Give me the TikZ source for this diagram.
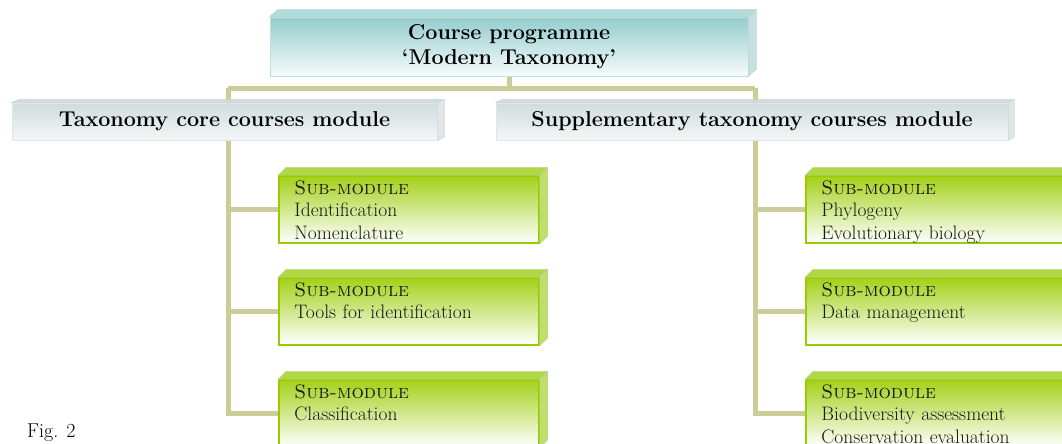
\documentclass[tikz,border=0pt]{standalone}
\usepackage{tikz}
\usetikzlibrary{calc}
\usetikzlibrary{backgrounds}

\definecolor{linkcol}{RGB}{204,204,153}
\definecolor{subgreen}{RGB}{153,204,0}
\definecolor{subtop}{RGB}{176,216,70}
\definecolor{subside}{RGB}{190,222,110}
\definecolor{titleteal}{RGB}{148,204,204}
\definecolor{titletop}{RGB}{178,220,220}
\definecolor{titleside}{RGB}{196,224,224}
\definecolor{modgrey}{RGB}{208,220,222}
\definecolor{modside}{RGB}{222,230,231}

% top face and side face of a boxed node
\newcommand{\solidside}[5]{%
  \fill[#4, draw=#4!80!black!60] (#1.north west) -- ++(#2,-#3)
    -- ([shift={(#2,-#3)}]#1.north east) -- (#1.north east) -- cycle;
  \fill[#5, draw=#5!80!black!60] (#1.north east) -- ++(#2,-#3)
    -- ([shift={(#2,-#3)}]#1.south east) -- (#1.south east) -- cycle;}

\tikzset{
  link/.style={draw=linkcol, line width=5pt, line join=miter},
  titlebox/.style={rectangle, minimum width=478pt, minimum height=59pt,
    top color=titleteal, bottom color=titleteal!8!white, draw=titleteal!60!white,
    line width=0.8pt, align=center, font=\bfseries\fontsize{21.5}{25}\selectfont},
  modbox/.style={rectangle, minimum height=37pt,
    top color=modgrey, bottom color=modgrey!25!white, draw=modgrey!70!white,
    line width=0.8pt, font=\bfseries\fontsize{21.5}{25}\selectfont},
  subbox/.style={rectangle, minimum width=260pt, minimum height=67pt,
    top color=subgreen!90!white, middle color=subgreen!35!white, bottom color=white,
    draw=subgreen, line width=1.5pt},
  subtext/.style={anchor=north west, inner sep=0pt, align=left,
    text width=240pt, text=black!90, font=\fontsize{19.5}{22.5}\selectfont},
}

\begin{document}
\begin{tikzpicture}[x=1pt,y=-1pt]
      \useasboundingbox (0,0) rectangle (1062,444);
      \clip (0,0) rectangle (1062,444);
      % programme and modules
      \node[titlebox] (prog) at (509,46.5) {Course programme\\`Modern Taxonomy'};
      \node[modbox, minimum width=425pt] (core) at (224.5,121.5) {Taxonomy core courses module};
      \node[modbox, minimum width=512pt] (supp) at (752,121.5) {Supplementary taxonomy courses module};
      \solidside{prog}{8}{7}{titletop}{titleside}
      \solidside{core}{7}{3}{modgrey}{modside}
      \solidside{supp}{6}{3}{modgrey}{modside}
      % sub-modules, core
      \node[subbox] (c1) at (409,209.5) {};
      \node[subbox] (c2) at (409,311.5) {};
      \node[subbox] (c3) at (409,413.5) {};
      % sub-modules, supplementary
      \node[subbox] (s1) at (936,209.5) {};
      \node[subbox] (s2) at (936,311.5) {};
      \node[subbox] (s3) at (936,413.5) {};
      \foreach \b in {c1,c2,c3,s1,s2,s3}
        \solidside{\b}{8}{8}{subtop}{subside};
      \node[subtext] (c1t) at ($(c1.north west)+(16,5)$) {\textsc{Sub-module}\\Identification\\Nomenclature};
      \node[subtext] (c2t) at ($(c2.north west)+(16,5)$) {\textsc{Sub-module}\\Tools for identification};
      \node[subtext] (c3t) at ($(c3.north west)+(16,5)$) {\textsc{Sub-module}\\Classification};
      \node[subtext] (s1t) at ($(s1.north west)+(16,5)$) {\textsc{Sub-module}\\Phylogeny\\Evolutionary biology};
      \node[subtext] (s2t) at ($(s2.north west)+(16,5)$) {\textsc{Sub-module}\\Data management};
      \node[subtext] (s3t) at ($(s3.north west)+(16,5)$) {\textsc{Sub-module}\\Biodiversity assessment\\Conservation evaluation};
      \node[anchor=base west, inner sep=0pt, font=\fontsize{20}{24}\selectfont] (fig) at (27,437) {Fig. 2};
      % connectors
      \coordinate (jl) at (228,88);
      \coordinate (jr) at (755,88);
      \begin{scope}[on background layer]
        \draw[link] (prog.south) -- (prog.south |- jl);
        \draw[link] (jl) -- (jr);
        \draw[link] (jl) |- (c3.west);
        \draw[link] (jl |- c1.west) -- (c1.west);
        \draw[link] (jl |- c2.west) -- (c2.west);
        \draw[link] (jr) |- (s3.west);
        \draw[link] (jr |- s1.west) -- (s1.west);
        \draw[link] (jr |- s2.west) -- (s2.west);
      \end{scope}
    \end{tikzpicture}
\end{document}
